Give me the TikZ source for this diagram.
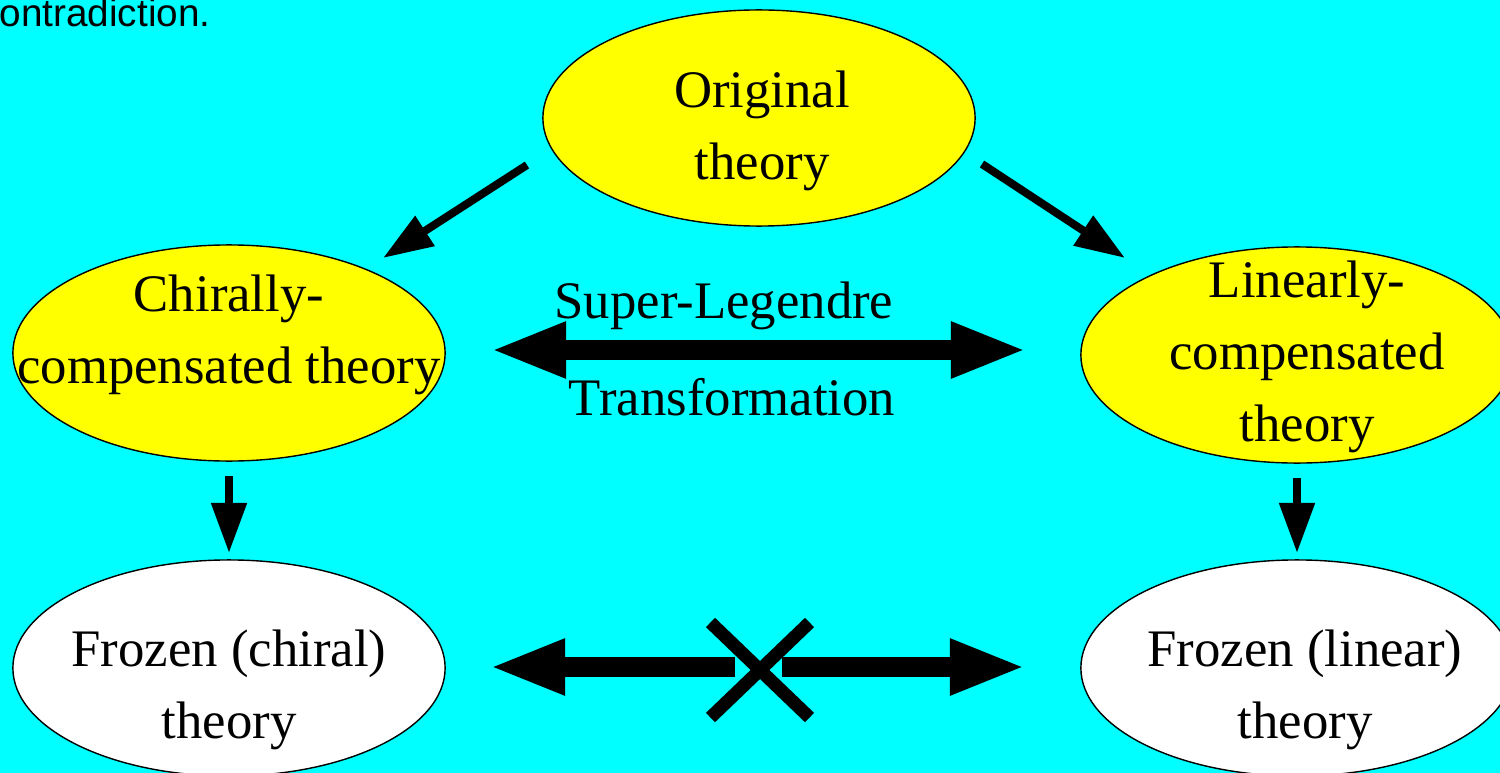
\documentclass[tikz,border=0pt]{standalone}
\usepackage{fontspec}
\setmainfont{Liberation Serif}
\newfontfamily\notefont{Liberation Sans}
\usetikzlibrary{arrows.meta, shapes.geometric, shapes.misc}

\definecolor{bgcyan}{RGB}{0,255,255}
\definecolor{thyellow}{RGB}{255,255,0}

\begin{document}
\begin{tikzpicture}[
x=0.01cm, y=-0.01cm,
theory/.style={draw, ellipse, line width=0.4pt, minimum width=4.32cm, minimum height=2.16cm, inner sep=0pt},
thtext/.style={align=center, inner sep=0pt, font=\fontsize{15}{20.5}\selectfont},
arrow/.style={-{Triangle[length=0.5cm, width=0.34cm]}, line width=0.08cm},
bigarrow/.style={-{Triangle[length=0.76cm, width=0.51cm]}, line width=0.2cm},
bigboth/.style={{Triangle[length=0.76cm, width=0.51cm]}-{Triangle[length=0.76cm, width=0.51cm]}, line width=0.2cm}
]

\fill[bgcyan] (0,0) rectangle (1500,773);
\useasboundingbox (0,0) rectangle (1500,773);

\node[font=\notefont\fontsize{11}{13}\selectfont, anchor=base west, inner sep=0pt] (note) at (-1,27) {ontradiction.};

% ---------- THEORIES ----------

\node[theory, fill=thyellow] (orig) at (759,118) {};
\node[theory, fill=thyellow] (chiral) at (229,353) {};
\node[theory, fill=thyellow] (linear) at (1297,355) {};
\node[theory, fill=white] (frozc) at (229,668) {};
\node[theory, fill=white] (frozl) at (1297,668) {};

\node[thtext] (origtxt) at (762,131) {Original\\theory};
\node[thtext] (chiraltxt) at (229,335) {Chirally-\\compensated theory};
\node[thtext] (lineartxt) at (1307,357) {Linearly-\\compensated\\theory};
\node[thtext] (frozctxt) at (229,690) {Frozen (chiral)\\theory};
\node[thtext] (frozltxt) at (1305,690) {Frozen (linear)\\theory};

% ---------- TRANSFORMATION ----------

\node[thtext, anchor=base] (suplabel) at (724,318) {Super-Legendre};
\node[thtext, anchor=base] (trlabel) at (732,415) {Transformation};

\node[cross out, draw, line width=0.13cm, minimum width=0.86cm, minimum height=0.82cm, inner sep=0pt] (nox) at (760,670) {};

% ---------- ARROWS ----------

\coordinate (a1) at (527,165);
\coordinate (a2) at (383,258);
\coordinate (b1) at (982,164);
\coordinate (b2) at (1125,258);
\coordinate (c1) at (229,476);
\coordinate (c2) at (229,553);
\coordinate (d1) at (1297,478);
\coordinate (d2) at (1297,553);
\coordinate (sl) at (490,350);
\coordinate (sr) at (1027,350);
\coordinate (xl) at (735,667);
\coordinate (xr) at (782,667);
\coordinate (fl) at (489,667);
\coordinate (fr) at (1026,667);

\draw[arrow] (a1) -- (a2);
\draw[arrow] (b1) -- (b2);
\draw[arrow] (c1) -- (c2);
\draw[arrow] (d1) -- (d2);

\draw[bigboth] (sl) -- (sr);
\draw[bigarrow] (xl) -- (fl);
\draw[bigarrow] (xr) -- (fr);

\end{tikzpicture}
\end{document}
